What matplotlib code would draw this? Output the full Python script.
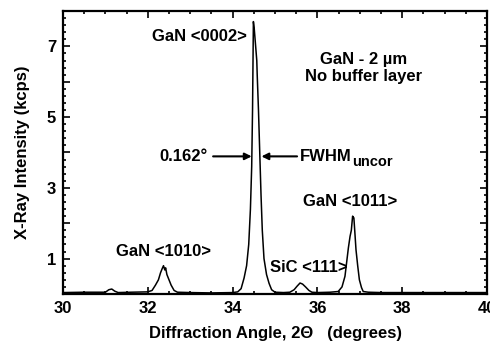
import matplotlib
matplotlib.use("Agg")
import matplotlib.pyplot as plt
from matplotlib.ticker import MultipleLocator, FuncFormatter

plt.rcParams["font.family"] = ["Liberation Sans", "DejaVu Sans"]
plt.rcParams["font.weight"] = "bold"
plt.rcParams["axes.labelweight"] = "bold"

# 2-theta scan (degrees) and intensity (kcps)
two_theta = [
    30.0, 30.5, 31.0, 31.08, 31.15, 31.22, 31.3, 31.6,
    32.0, 32.1, 32.18, 32.25, 32.3, 32.34, 32.37, 32.40, 32.42, 32.45,
    32.5, 32.55, 32.62, 32.7, 33.0, 33.5,
    34.0, 34.12, 34.2, 34.27, 34.33, 34.38, 34.42, 34.45, 34.47, 34.49,
    34.51, 34.55, 34.57, 34.58, 34.61, 34.64, 34.67, 34.70, 34.74,
    34.8, 34.86, 34.92, 35.0, 35.2,
    35.35, 35.45, 35.52, 35.59, 35.65, 35.72, 35.8, 35.87, 36.0, 36.3,
    36.49, 36.58, 36.65, 36.70, 36.73, 36.77, 36.80, 36.83, 36.86,
    36.88, 36.91, 36.95, 36.99, 37.04, 37.08, 37.2, 37.5,
    38.0, 38.5, 39.0, 39.5, 40.0,
]
intensity = [
    0.04, 0.05, 0.05, 0.12, 0.14, 0.08, 0.04, 0.05,
    0.06, 0.10, 0.25, 0.40, 0.60, 0.72, 0.80, 0.68, 0.74, 0.55,
    0.40, 0.25, 0.10, 0.05, 0.04, 0.03,
    0.04, 0.06, 0.15, 0.45, 0.80, 1.40, 2.40, 3.60, 5.20, 7.70,
    7.50, 6.90, 6.60, 6.20, 5.20, 4.00, 2.80, 1.80, 1.00,
    0.55, 0.30, 0.12, 0.05, 0.04,
    0.05, 0.12, 0.22, 0.31, 0.28, 0.20, 0.10, 0.05, 0.04, 0.05,
    0.07, 0.20, 0.50, 1.00, 1.30, 1.63, 1.80, 2.20, 2.15,
    1.80, 1.25, 0.80, 0.40, 0.18, 0.07, 0.05, 0.04,
    0.04, 0.04, 0.04, 0.04, 0.04,
]

fig = plt.figure(figsize=(4.9, 3.43), dpi=100)
ax = fig.add_axes([0.1286, 0.1429, 0.8653, 0.8251])

ax.plot(two_theta, intensity, color="black", lw=1.1)

ax.set_xlim(30, 40)
ax.set_ylim(0, 8)
ax.xaxis.set_major_locator(MultipleLocator(2))
ax.xaxis.set_minor_locator(MultipleLocator(0.5))
ax.yaxis.set_major_locator(MultipleLocator(1))
ax.yaxis.set_minor_locator(MultipleLocator(0.2))
ax.yaxis.set_major_formatter(FuncFormatter(lambda v, p: f"{v:.0f}" if int(round(v)) % 2 else ""))
ax.tick_params(which="both", direction="in", top=True, right=True, labelsize=12, width=1.2)
ax.tick_params(which="major", length=5, pad=5)
ax.tick_params(which="minor", length=2.5)
for lab in ax.get_xticklabels() + ax.get_yticklabels():
    lab.set_fontweight("bold")
for s in ax.spines.values():
    s.set_linewidth(1.6)

ax.set_xlabel("Diffraction Angle, 2Θ   (degrees)", fontsize=12, labelpad=7)
ax.set_ylabel("X-Ray Intensity (kcps)", fontsize=12, labelpad=12)

ax.text(33.21, 7.29, "GaN <0002>", ha="center", va="center", fontsize=12)
ax.text(37.08, 6.38, "GaN - 2 µm\nNo buffer layer", ha="center", va="center",
        fontsize=12, linespacing=1.15)
ax.text(32.36, 1.19, "GaN <1010>", ha="center", va="center", fontsize=12)
ax.text(36.71, 0.74, "SiC <111>", ha="right", va="center", fontsize=12)
ax.text(36.77, 2.61, "GaN <1011>", ha="center", va="center", fontsize=12)

arrow = dict(arrowstyle="-|>", color="black", lw=1.5, mutation_scale=10, shrinkA=0, shrinkB=0)
ax.annotate("", xy=(34.45, 3.89), xytext=(33.54, 3.89), arrowprops=arrow)
ax.annotate("", xy=(34.68, 3.89), xytext=(35.52, 3.89), arrowprops=arrow)
ax.text(33.40, 3.89, "0.162°", ha="right", va="center", fontsize=12)
fwhm = ax.text(35.58, 3.89, "FWHM", ha="left", va="center", fontsize=12)
ax.annotate("uncor", xy=(1.0, 0.1), xycoords=fwhm, xytext=(0.5, 0),
            textcoords="offset points", ha="left", va="center", fontsize=10.5)

fig.savefig("out.png", dpi=100)
